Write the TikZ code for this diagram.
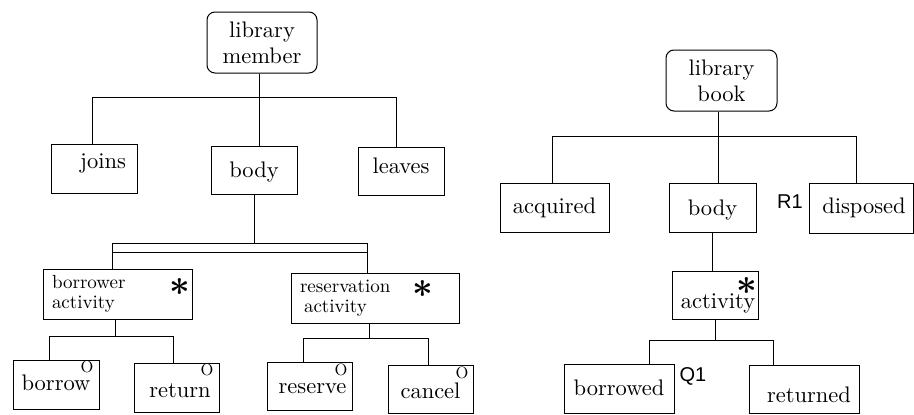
\RequirePackage{fix-cm}
\documentclass[tikz,border=0pt]{standalone}
\usepackage{bm}
\usepackage{fontspec}
\setmainfont{lmroman10-regular}[Extension=.otf]
\newfontfamily\labelsans{Liberation Sans}
\newcommand{\repmark}{$\bm{\ast}$}
\begin{document}
\begin{tikzpicture}[x=1pt,y=-1pt,
  line width=1pt,
  box/.style={draw, rectangle, inner sep=2pt, font=\fontsize{22.5}{26}\selectfont},
  topbox/.style={box, rounded corners=8pt, align=center},
  actbox/.style={draw, rectangle, inner xsep=9pt, inner ysep=2pt, align=left,
    font=\fontsize{19}{20}\selectfont},
  bl/.style={text height=2*#1, text depth=0pt},
  astk/.style={inner sep=0pt, font=\fontsize{36}{36}\selectfont},
  opt/.style={inner sep=0pt, font=\fontsize{16.5}{16.5}\selectfont},
  tag/.style={inner sep=0pt, font=\labelsans\fontsize{20}{20}\selectfont}]
\useasboundingbox (0,0) rectangle (914,415);

% ---------- library member ----------
\node[topbox, minimum width=110, minimum height=61] (member) at (262,42.5) {library\\member};
\node[box, bl=0pt, minimum width=86, minimum height=49] (joins) at (94,168.5) {\hspace*{18pt}joins};
\node[box, bl=7pt, minimum width=86, minimum height=48] (bodyA) at (254,170) {body};
\node[box, bl=2pt, minimum width=86, minimum height=48] (leaves) at (401,171) {leaves};

\node[actbox, text width=131, minimum width=149, minimum height=50] (bact) at (117.5,294) {borrower\\activity};
\node[actbox, text width=150, minimum width=168, minimum height=50] (ract) at (375,298) {reservation\\\hspace*{4pt}activity};
\node[astk] (sA) at (180,287) {\repmark};
\node[astk] (sB) at (423,289) {\repmark};

\node[box, bl=5.5pt, minimum width=86, minimum height=49] (borrow) at (56,384.5) {borrow};
\node[box, bl=9.5pt, minimum width=85, minimum height=49] (return) at (176.5,387.5) {\hspace*{7pt}return};
\node[box, bl=7pt, minimum width=85, minimum height=48] (reserve) at (309.5,386) {\hspace*{6pt}reserve};
\node[box, bl=9pt, minimum width=85, minimum height=48] (cancel) at (430.5,389) {cancel};
\node[opt] (oA) at (87,367) {O};
\node[opt] (oB) at (207,370) {O};
\node[opt] (oC) at (341,370) {O};
\node[opt] (oD) at (462,373) {O};

% tree lines, member side
\coordinate (m1) at (259,97);
\coordinate (m0) at (92,97);
\coordinate (m2) at (396,97);
\draw (member.south -| m1) -- (m1);
\draw (m0) -- (m2);
\draw (m0) -- (m0 |- joins.north);
\draw (m1) -- (m1 |- bodyA.north);
\draw (m2) -- (m2 |- leaves.north);

\coordinate (d0) at (112,243);
\coordinate (d1) at (367,252);
\draw (bodyA.south) -- (bodyA.south |- d0);
\draw (d0) rectangle (d1);
\draw (d0 |- d1) -- (d0 |- bact.north);
\draw (d1) -- (d1 |- ract.north);

\coordinate (b1) at (115,336);
\coordinate (b0) at (49,336);
\coordinate (b2) at (173,336);
\draw (bact.south -| b1) -- (b1);
\draw (b0) -- (b2);
\draw (b0) -- (b0 |- borrow.north);
\draw (b2) -- (b2 |- return.north);

\coordinate (r1) at (369,338);
\coordinate (r0) at (303,338);
\coordinate (r2) at (428,338);
\draw (ract.south -| r1) -- (r1);
\draw (r0) -- (r2);
\draw (r0) -- (r0 |- reserve.north);
\draw (r2) -- (r2 |- cancel.north);

% ---------- library book ----------
\node[topbox, minimum width=111, minimum height=61] (book) at (721.5,80.5) {library\\book};
\node[box, bl=6pt, minimum width=109, minimum height=49] (acquired) at (554.5,207.5) {acquired};
\node[box, bl=7.5pt, minimum width=87, minimum height=49] (bodyB) at (712.5,207.5) {body};
\node[box, bl=5pt, minimum width=104, minimum height=50] (disposed) at (861,208) {\hspace*{6pt}disposed};
\node[tag] (R1) at (790,202) {R1};

\node[box, bl=13pt, minimum width=86, minimum height=48] (activity) at (715,295) {\hspace*{6pt}activity};
\node[astk] (sC) at (747,286) {\repmark};

\node[box, bl=6.5pt, minimum width=110, minimum height=49] (borrowed) at (619,388.5) {borrowed};
\node[box, bl=13pt, minimum width=110, minimum height=48] (returned) at (804,389) {\hspace*{10pt}returned};
\node[tag] (Q1) at (693,376) {Q1};

% tree lines, book side
\coordinate (k1) at (718,136);
\coordinate (k0) at (552,136);
\coordinate (k2) at (856,136);
\draw (book.south -| k1) -- (k1);
\draw (k0) -- (k2);
\draw (k0) -- (k0 |- acquired.north);
\draw (k1) -- (k1 |- bodyB.north);
\draw (k2) -- (k2 |- disposed.north);

\draw (bodyB.south) -- (bodyB.south |- activity.north);

\coordinate (a1) at (715,340);
\coordinate (a0) at (649,340);
\coordinate (a2) at (773,340);
\draw (activity.south -| a1) -- (a1);
\draw (a0) -- (a2);
\draw (a0) -- (a0 |- borrowed.north);
\draw (a2) -- (a2 |- returned.north);
\end{tikzpicture}
\end{document}
